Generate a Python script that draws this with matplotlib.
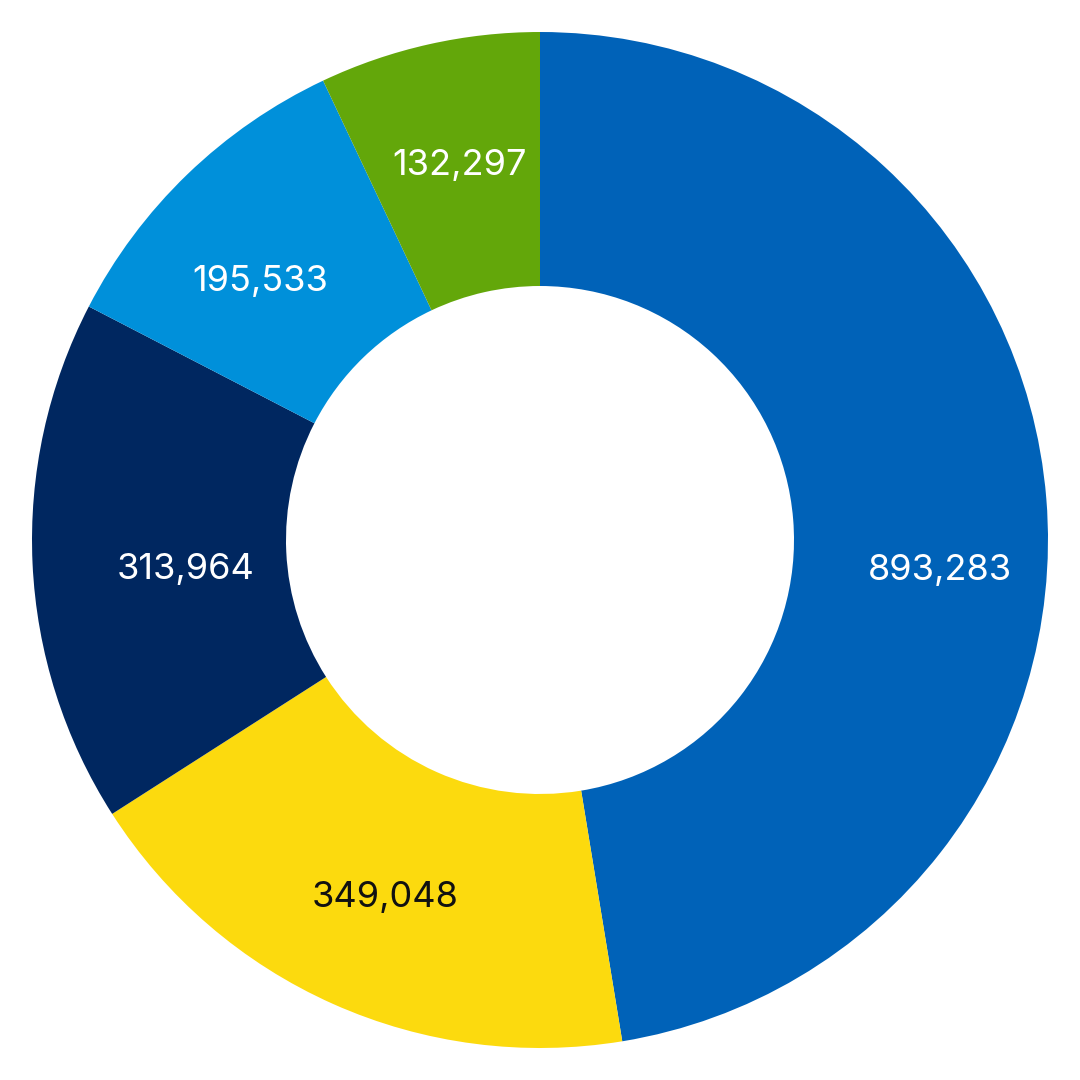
import numpy as np
import matplotlib.pyplot as plt

# slice values, clockwise from 12 o'clock
values = [893283, 349048, 313964, 195533, 132297]
colors = ['#0062B8', '#FCDA0E', '#002760', '#0090DA', '#63A70A']
label_colors = ['white', '#111111', 'white', 'white', 'white']
# small nudges (pixels) of each label away from the wedge middle
label_nudge = [(20, -61), (0, -10), (26, -12), (-15, -16), (3, 3)]

fig = plt.figure(figsize=(10.8, 10.8), dpi=100)
ax = fig.add_axes([0, 0, 1, 1])

wedges, _ = ax.pie(values, colors=colors, startangle=90, counterclock=False,
                   radius=1.0, wedgeprops=dict(width=0.5, edgecolor='none'))

for w, v, c, nd in zip(wedges, values, label_colors, label_nudge):
    ang = np.deg2rad((w.theta1 + w.theta2) / 2)
    ax.annotate('{:,}'.format(v), xy=(0.75 * np.cos(ang), 0.75 * np.sin(ang)),
                xytext=nd, textcoords='offset pixels', ha='center', va='center',
                color=c, fontsize=26, fontweight='normal',
                family=['Inter', 'DejaVu Sans'])

ax.set_xlim(-1.063, 1.063)
ax.set_ylim(-1.063, 1.063)
ax.set_aspect('equal')
ax.axis('off')

fig.savefig('out.png', dpi=100, facecolor='white')
